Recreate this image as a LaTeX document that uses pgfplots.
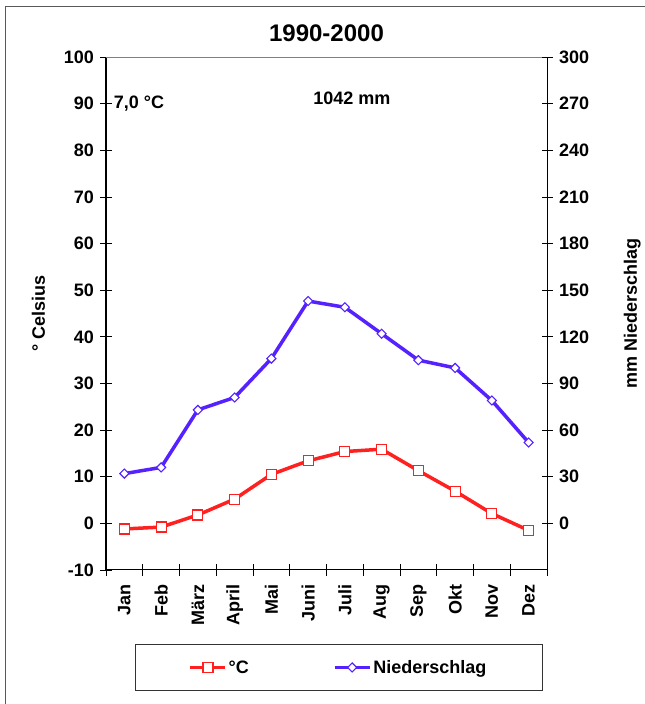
\documentclass[border=0pt]{standalone}
\usepackage{fontspec}
\setmainfont{Liberation Sans}
\usepackage{pgfplots}
\pgfplotsset{compat=1.18}
\definecolor{tempred}{RGB}{255,32,32}
\definecolor{niedblue}{RGB}{85,34,255}
\newcommand{\lbl}{\fontsize{18}{21}\selectfont\bfseries}

\pgfplotsset{
  klima/.style={
    at={(106pt,134pt)}, anchor=south west,
    width=441pt, height=513pt, scale only axis,
    xmin=0.5, xmax=12.5,
    tick align=center,
    major tick length=11pt, minor tick length=11pt,
    tick style={black, line width=0.8pt},
    axis line style={black, line width=1pt},
    tick label style={font=\lbl},
    label style={font=\lbl},
  },
  tempstyle/.style={tempred, line width=3.5pt, mark=square*,
    mark size=5pt, mark options={fill=white, draw=tempred, line width=1.2pt}},
  niedstyle/.style={niedblue, line width=3.5pt, mark=square*,
    mark size=3.2pt, mark options={fill=white, draw=niedblue, line width=1.1pt, rotate=45}},
}

\begin{document}
\begin{tikzpicture}
\path[use as bounding box] (0pt,0pt) rectangle (645pt,704pt);
\draw[black!65, line width=1pt] (5pt,0pt) -- (5pt,697pt) -- (646pt,697pt);

% Temperatur, linke Achse
\begin{axis}[klima,
  ymin=-10, ymax=100,
  axis x line*=bottom, axis y line*=left,
  xtick={1,...,12},
  xticklabels={Jan,Feb,März,April,Mai,Juni,Juli,Aug,Sep,Okt,Nov,Dez},
  major x tick style={draw=none},
  minor xtick={0.5,1.5,...,12.5},
  xticklabel style={rotate=90, anchor=east, xshift=-5pt},
  ytick={-10,0,...,100},
  yticklabels={-10,0,10,20,30,40,50,60,70,80,90,100},
  yticklabel style={xshift=-3pt},
  ylabel={° Celsius},
  ylabel style={yshift=12pt},
  clip=false,
]
\addplot[tempstyle] coordinates {
  (1,-1.2) (2,-0.8) (3,1.8) (4,5.2) (5,10.5) (6,13.4)
  (7,15.4) (8,15.9) (9,11.3) (10,6.9) (11,2.1) (12,-1.5)
};
\draw[gray, line width=0.8pt] (rel axis cs:0,1) -- (rel axis cs:1,1);
\node[font=\lbl, anchor=west] at (axis cs:0.62,90) {7,0 °C};
\node[font=\lbl] at (axis cs:7.19,91.1) {1042 mm};
\node[font=\fontsize{24}{28}\selectfont\bfseries] at ([yshift=24pt]rel axis cs:0.5,1) {1990-2000};
\end{axis}

% Niederschlag, rechte Achse
\begin{axis}[klima,
  ymin=-30, ymax=300,
  axis y line*=right, axis x line=none,
  ytick={0,30,...,300},
  yticklabels={0,30,60,90,120,150,180,210,240,270,300},
  yticklabel style={xshift=3pt},
  ylabel={mm Niederschlag},
  ylabel style={font=\lbl, yshift=-28pt},
  legend style={at={(0.528,-0.19)}, anchor=center, legend columns=2,
    draw=black!80, line width=0.8pt, font=\lbl,
    inner xsep=54pt, inner ysep=14pt,
    /tikz/every even column/.append style={column sep=82pt}},
  legend image code/.code={
    \draw[mark repeat=2, mark phase=2, #1] plot coordinates {(0pt,0pt) (17.5pt,0pt) (35pt,0pt)};},
]
\addlegendimage{tempstyle, line width=2.5pt}
\addlegendentry{°C}
\addplot[niedstyle] coordinates {
  (1,32) (2,36) (3,73) (4,81) (5,106) (6,143)
  (7,139) (8,122) (9,105) (10,100) (11,79) (12,52)
};
\addlegendentry{Niederschlag}
\end{axis}
\end{tikzpicture}
\end{document}
